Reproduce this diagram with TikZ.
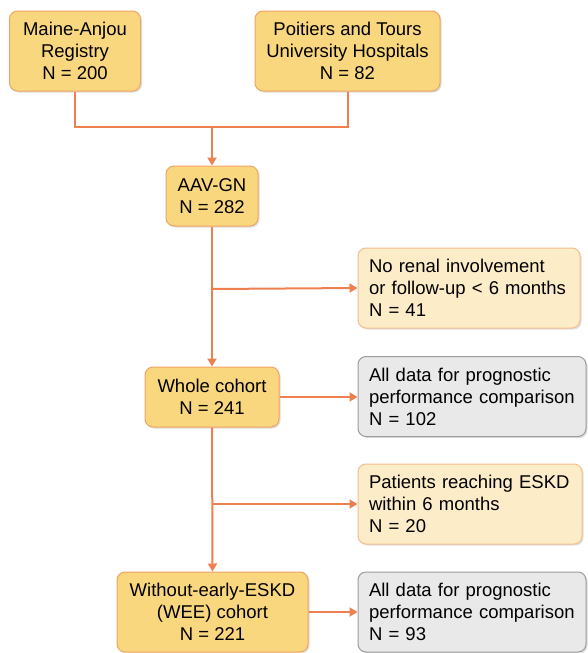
\documentclass[tikz,border=0pt]{standalone}
\usepackage{fontspec}
\setmainfont{Liberation Sans}
\usetikzlibrary{arrows.meta,shadows}
\definecolor{gold}{HTML}{F9D77E}
\definecolor{goldline}{HTML}{F0A464}
\definecolor{pale}{HTML}{FDECC8}
\definecolor{paleline}{HTML}{F5BC8C}
\definecolor{grayfill}{HTML}{E9E9E9}
\definecolor{grayline}{HTML}{9C9C9C}
\definecolor{link}{HTML}{EE7F4F}
\tikzset{
  box/.style={draw, line width=1pt, rounded corners=8pt, inner ysep=0pt,
    font=\fontsize{18.5}{22}\selectfont,
    drop shadow={shadow xshift=1.5pt, shadow yshift=-1.5pt, opacity=0.25}},
  mainbox/.style={box, inner xsep=0pt, fill=gold, draw=goldline, align=center},
  sidebox/.style={box, inner xsep=11pt, fill=pale, draw=paleline, align=left, text width=#1},
  databox/.style={box, inner xsep=11pt, fill=grayfill, draw=grayline, align=left, text width=#1},
  conn/.style={draw=link, line width=2pt},
  arr/.style={conn, -{Triangle[length=8pt,width=9pt]}},
}
\begin{document}
\begin{tikzpicture}[x=1pt,y=-1pt]
\useasboundingbox (0,0) rectangle (587,653);
\node[mainbox, minimum width=131pt, minimum height=80pt] (ma) at (75,51) {Maine-Anjou\\Registry\\N = 200};
\node[mainbox, minimum width=185pt, minimum height=80pt] (pt) at (347.5,51) {Poitiers and Tours\\University Hospitals\\N = 82};
\node[mainbox, minimum width=92pt, minimum height=60pt] (aav) at (212,196) {AAV-GN\\N = 282};
\node[sidebox=200pt, minimum height=80pt] (nr) at (469,288) {No renal involvement\\or follow-up < 6 months\\N = 41};
\node[mainbox, minimum width=134pt, minimum height=60pt] (wc) at (212,397) {Whole cohort\\N = 241};
\node[databox=206pt, minimum height=80pt] (ad1) at (472,396.5) {All data for prognostic\\performance comparison\\N = 102};
\node[sidebox=202pt, minimum height=80pt] (pe) at (470,504) {Patients reaching ESKD\\within 6 months\\N = 20};
\node[mainbox, minimum width=191pt, minimum height=80pt] (wee) at (212.5,612) {Without-early-ESKD\\(WEE) cohort\\N = 221};
\node[databox=206pt, minimum height=80pt] (ad2) at (472,612) {All data for prognostic\\performance comparison\\N = 93};
\coordinate (j1) at (212,127);
\coordinate (b1) at (212,289);
\coordinate (b2) at (212,504);
\draw[conn] (ma.south) |- (j1) -| (pt.south);
\draw[arr] (j1) -- (aav.north);
\draw[arr] (aav.south) -- (wc.north);
\draw[arr] (b1) -- (nr.west);
\draw[arr] (wc.east) -- (ad1.west |- wc.east);
\draw[arr] (wc.south) -- (wee.north);
\draw[arr] (b2) -- (pe.west);
\draw[arr] (wee.east) -- (ad2.west);
\end{tikzpicture}
\end{document}
